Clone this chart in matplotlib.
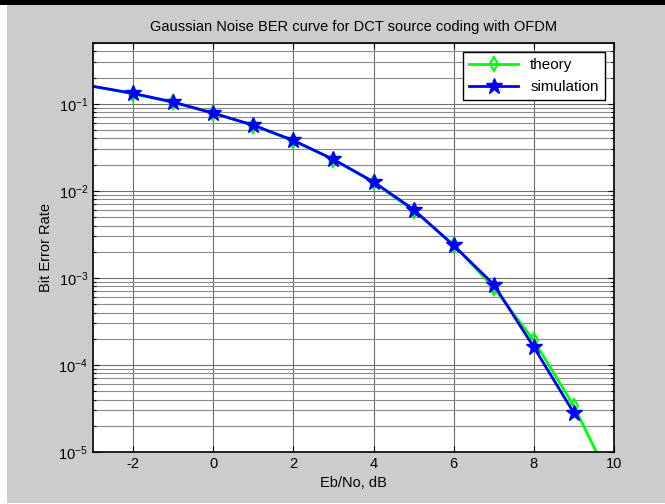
import numpy as np
import matplotlib
matplotlib.use('Agg')
import matplotlib.pyplot as plt
from matplotlib.patches import Rectangle
from matplotlib.ticker import LogLocator, NullFormatter

plt.rcParams['font.family'] = ['Liberation Sans', 'DejaVu Sans']
plt.rcParams['mathtext.default'] = 'regular'
plt.rcParams['axes.unicode_minus'] = False

# values
ebno = [-3, -2, -1, 0, 1, 2, 3, 4, 5, 6, 7, 8, 9, 10]
ber_theory = [0.1584, 0.1306, 0.1038, 0.0786, 0.0563, 0.0375, 0.0229,
              0.0125, 0.00595, 0.00239, 7.73e-4, 1.91e-4, 3.36e-5, 3.87e-6]
ebno_sim = [-3, -2, -1, 0, 1, 2, 3, 4, 5, 6, 7, 8, 9]
ber_sim = [0.159, 0.132, 0.105, 0.078, 0.057, 0.038, 0.023,
           0.0127, 0.0061, 0.00236, 8.4e-4, 1.6e-4, 2.8e-5]
x_ticks = [-2, 0, 2, 4, 6, 8, 10]

fig = plt.figure(figsize=(6.65, 5.04), dpi=100, facecolor='white')
W, H = 665.0, 504.0
# gray matlab figure area and the black strip on top
fig.patches.append(Rectangle((7 / W, 1 / H), 658 / W, 498 / H, transform=fig.transFigure,
                             facecolor='#cccccc', edgecolor='none', zorder=-10))
fig.patches.append(Rectangle((0, 499 / H), 1, 5 / H, transform=fig.transFigure,
                             facecolor='black', edgecolor='none', zorder=-9))

ax = fig.add_axes([93 / W, 52 / H, 521 / W, 409 / H])
ax.set_facecolor('white')

ax.plot(ebno, ber_theory, color=(0, 1, 0), lw=2, marker='d', ms=7,
        mfc='none', mec=(0, 1, 0), mew=1.5, markevery=range(1, 13), label='theory')
ax.plot(ebno_sim, ber_sim, color=(0, 0, 1), lw=2, marker='*', ms=12,
        mfc=(0, 0, 1), mec=(0, 0, 1), markevery=range(1, 13), label='simulation')

ax.set_yscale('log')
ax.set_xlim(-3, 10)
ax.set_ylim(1e-5, 0.5)
ax.set_xticks(x_ticks)
ax.yaxis.set_major_locator(LogLocator(base=10, numticks=10))
ax.yaxis.set_minor_locator(LogLocator(base=10, subs=np.arange(2, 10), numticks=20))
ax.yaxis.set_minor_formatter(NullFormatter())

ax.grid(True, which='major', color='#6e6e6e', lw=0.8)
ax.grid(True, which='minor', axis='y', color='#8a8a8a', lw=0.8)
ax.set_axisbelow(True)

ax.tick_params(which='both', direction='in', top=True, right=True, labelsize=10.5)
ax.tick_params(which='major', length=4, width=0.8)
ax.tick_params(which='minor', length=2.5, width=0.8)
for s in ax.spines.values():
    s.set_linewidth(1.2)
    s.set_color('black')

ax.set_title('Gaussian Noise BER curve for DCT source coding with OFDM', fontsize=10.5, pad=9)
ax.set_xlabel('Eb/No, dB', fontsize=10.5)
ax.set_ylabel('Bit Error Rate', fontsize=10.5)

leg = ax.legend(loc='upper right', fontsize=11, fancybox=False, framealpha=1,
                edgecolor='black', borderaxespad=0.6, handlelength=3.2)
leg.get_frame().set_linewidth(1.0)

fig.savefig('out.png', dpi=100, facecolor=fig.get_facecolor())
